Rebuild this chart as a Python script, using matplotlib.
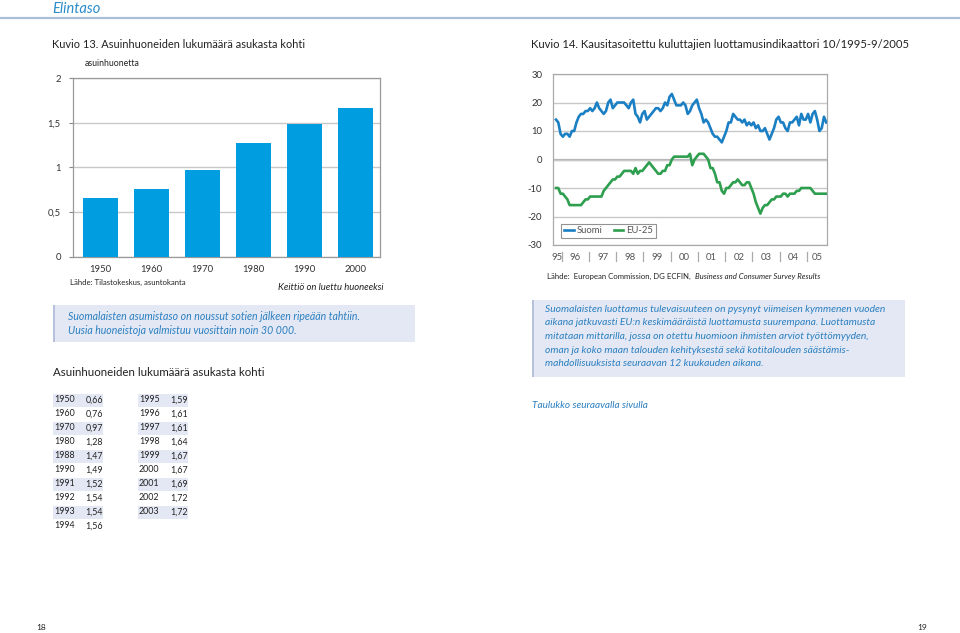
import numpy as np
import matplotlib
matplotlib.use("Agg")
import matplotlib.pyplot as plt

plt.rcParams['font.family'] = ['Lato', 'DejaVu Sans']
plt.rcParams['axes.unicode_minus'] = False

# --- data ---
bar_years = ['1950', '1960', '1970', '1980', '1990', '2000']
bar_values = [0.66, 0.76, 0.97, 1.28, 1.49, 1.67]

# monthly 10/1995 - 9/2005
suomi = [14, 13, 9, 8, 9, 9, 8, 10, 10, 13, 15, 16,
         16, 17, 17, 18, 17, 18, 20, 18, 17, 16, 17, 20,
         21, 18, 19, 20, 20, 20, 20, 19, 18, 20, 21, 16,
         15, 13, 16, 17, 14, 15, 16, 17, 18, 18, 17, 18,
         20, 19, 22, 23, 21, 19, 19, 19, 20, 19, 16, 17,
         19, 20, 21, 18, 16, 13, 14, 13, 11, 9, 8, 8,
         7, 6, 8, 10, 13, 13, 16, 15, 14, 14, 13, 14,
         12, 13, 12, 13, 11, 12, 10, 10, 11, 9, 7, 9,
         11, 14, 15, 13, 13, 11, 10, 13, 13, 14, 15, 12,
         16, 14, 14, 16, 13, 16, 17, 14, 10, 11, 15, 13]
eu25 = [-10, -10, -12, -12, -13, -14, -16, -16, -16, -16, -16, -16,
        -15, -14, -14, -13, -13, -13, -13, -13, -13, -11, -10, -9,
        -8, -7, -7, -6, -6, -5, -4, -4, -4, -4, -5, -3,
        -5, -4, -4, -3, -2, -1, -2, -3, -4, -5, -5, -4,
        -4, -2, -2, 0, 1, 1, 1, 1, 1, 1, 1, 2,
        -2, 0, 1, 2, 2, 2, 1, 0, -3, -3, -5, -8,
        -8, -11, -12, -10, -10, -9, -8, -8, -7, -8, -9, -9,
        -8, -8, -10, -12, -15, -17, -19, -17, -16, -16, -15, -14,
        -14, -13, -13, -13, -12, -12, -13, -12, -12, -12, -11, -11,
        -10, -10, -10, -10, -10, -11, -12, -12, -12, -12, -12, -12]
year_labels = ['95', '96', '97', '98', '99', '00', '01', '02', '03', '04', '05']

table_left = [('1950', '0,66'), ('1960', '0,76'), ('1970', '0,97'), ('1980', '1,28'),
              ('1988', '1,47'), ('1990', '1,49'), ('1991', '1,52'), ('1992', '1,54'),
              ('1993', '1,54'), ('1994', '1,56')]
table_right = [('1995', '1,59'), ('1996', '1,61'), ('1997', '1,61'), ('1998', '1,64'),
               ('1999', '1,67'), ('2000', '1,67'), ('2001', '1,69'), ('2002', '1,72'),
               ('2003', '1,72')]

W, H = 960, 633
BLUE_TXT = '#2a7fc0'
BOX = '#e3e8f4'
GRID = '#c8c8c8'
TXT = '#222222'

fig = plt.figure(figsize=(W / 100, H / 100), dpi=100)


def fx(x):
    return x / W


def fy(y):
    return 1 - y / H


def txt(x, y, s, **kw):
    kw.setdefault('color', TXT)
    kw.setdefault('va', 'center')
    fig.text(fx(x), fy(y), s, **kw)


def rect(x0, y0, x1, y1, color, **kw):
    fig.patches.append(plt.Rectangle((fx(x0), fy(y1)), fx(x1) - fx(x0), fy(y0) - fy(y1),
                                     transform=fig.transFigure, facecolor=color,
                                     edgecolor='none', **kw))


# header
txt(52, 13, 'Elintaso', fontsize=10.5, style='italic', color='#2a8cc8', va='baseline')
fig.add_artist(plt.Line2D([0, 1], [fy(17.5), fy(17.5)], transform=fig.transFigure,
                          color='#a8c0d8', lw=1.6))

txt(52, 44, 'Kuvio 13. Asuinhuoneiden lukumäärä asukasta kohti', fontsize=7.95)
txt(531, 44, 'Kuvio 14. Kausitasoitettu kuluttajien luottamusindikaattori 10/1995-9/2005',
    fontsize=8.1)

# --- bar chart ---
ax1 = fig.add_axes([fx(73.3), fy(256.7), fx(380) - fx(73.3), fy(78.3) - fy(256.7)])
x = np.arange(len(bar_years))
ax1.bar(x, bar_values, width=0.69, color='#009ee0', zorder=3)
ax1.set_xlim(-0.54, 5.49)
ax1.set_ylim(0, 2)
ax1.set_yticks([0, 0.5, 1, 1.5, 2])
ax1.set_yticklabels(['0', '0,5', '1', '1,5', '2'])
ax1.set_xticks(x)
ax1.set_xticklabels(bar_years)
ax1.yaxis.grid(True, color=GRID, lw=1, zorder=0)
ax1.tick_params(axis='x', length=0, pad=6, labelsize=6.8, colors='#333333')
ax1.tick_params(axis='y', length=3, pad=6, labelsize=6.8, colors='#333333', color='#888888')
for s in ax1.spines.values():
    s.set_color('#999999')
    s.set_linewidth(0.9)
txt(85, 64, 'asuinhuonetta', fontsize=6.3)
txt(70, 282, 'Lähde: Tilastokeskus, asuntokanta', fontsize=5.6)
txt(384, 288, 'Keittiö on luettu huoneeksi', fontsize=6.8, style='italic', ha='right')

# --- line chart ---
ax2 = fig.add_axes([fx(553.3), fy(245), fx(826.7) - fx(553.3), fy(74) - fy(245)])
m = np.arange(len(suomi))
ax2.plot(m, suomi, color='#1b7fc4', lw=1.9, label='Suomi', zorder=3)
ax2.plot(m, eu25, color='#2e9e4f', lw=1.9, label='EU-25', zorder=3)
xmin, xmax = -1.2, 119.2
ax2.set_xlim(xmin, xmax)
ax2.set_ylim(-30, 30)
ax2.set_yticks(range(-30, 31, 10))
ax2.yaxis.grid(True, color=GRID, lw=1, zorder=0)
ax2.axhline(0, color='#b4b4b4', lw=1.6, zorder=1)
bounds = [2.5 + 12 * k for k in range(10)]
edges = [xmin] + bounds + [xmax]
centers = [(edges[i] + edges[i + 1]) / 2 for i in range(len(edges) - 1)]
ax2.set_xticks(centers)
ax2.set_xticklabels(year_labels)
ax2.tick_params(axis='x', length=0, pad=6, labelsize=6.8, colors='#555555')
ax2.tick_params(axis='y', length=0, pad=8, labelsize=6.8, colors='#333333')
for b in bounds:
    ax2.plot([b, b], [-0.04, -0.095], transform=ax2.get_xaxis_transform(),
             color='#aaaaaa', lw=0.9, clip_on=False)
for s in ax2.spines.values():
    s.set_color('#aaaaaa')
    s.set_linewidth(0.9)
leg = ax2.legend(loc='lower left', ncol=2, fontsize=6.8, frameon=True, fancybox=False,
                 handlelength=1.0, handletextpad=0.3, columnspacing=1.2,
                 borderpad=0.3, bbox_to_anchor=(0.012, 0.012))
leg.get_frame().set_edgecolor('#777777')
leg.get_frame().set_linewidth(0.8)
for t in leg.get_texts():
    t.set_color('#555555')

txt(547, 279, 'Lähde:  European Commission, DG ECFIN,', fontsize=5.6, va='baseline')
txt(695, 279, 'Business and Consumer Survey Results', fontsize=5.6, style='italic',
    va='baseline')

# --- info boxes ---
rect(53, 305, 415, 342, BOX)
rect(53, 305, 54.5, 342, '#b6c2dc')
txt(68, 316, 'Suomalaisten asumistaso on noussut sotien jälkeen ripeään tahtiin.',
    fontsize=7.6, style='italic', color=BLUE_TXT)
txt(68, 330, 'Uusia huoneistoja valmistuu vuosittain noin 30 000.',
    fontsize=7.6, style='italic', color=BLUE_TXT)

rect(532, 300, 905, 377, BOX)
rect(532, 300, 533.5, 377, '#b6c2dc')
info2 = ['Suomalaisten luottamus tulevaisuuteen on pysynyt viimeisen kymmenen vuoden',
         'aikana jatkuvasti EU:n keskimääräistä luottamusta suurempana. Luottamusta',
         'mitataan mittarilla, jossa on otettu huomioon ihmisten arviot työttömyyden,',
         'oman ja koko maan talouden kehityksestä sekä kotitalouden säästämis-',
         'mahdollisuuksista seuraavan 12 kuukauden aikana.']
for i, line in enumerate(info2):
    txt(545, 309 + 13.7 * i, line, fontsize=7.35, style='italic', color=BLUE_TXT)

txt(532, 405, 'Taulukko seuraavalla sivulla', fontsize=7.2, style='italic', color=BLUE_TXT)

# --- table ---
txt(53, 373, 'Asuinhuoneiden lukumäärä asukasta kohti', fontsize=8.3)


def draw_table(rows, x0, x1):
    for i, (yr, val) in enumerate(rows):
        yc = 400 + 14 * i
        if i % 2 == 0:
            rect(x0, yc - 6.5, x1, yc + 6.5, BOX)
        txt(x0 + 1, yc, yr, fontsize=6.4)
        txt(x1, yc, val, fontsize=6.4, ha='right')


draw_table(table_left, 53, 103)
draw_table(table_right, 138, 188)

txt(36, 628, '18', fontsize=6.0)
txt(917, 628, '19', fontsize=6.0)

fig.savefig('out.png', dpi=100)
